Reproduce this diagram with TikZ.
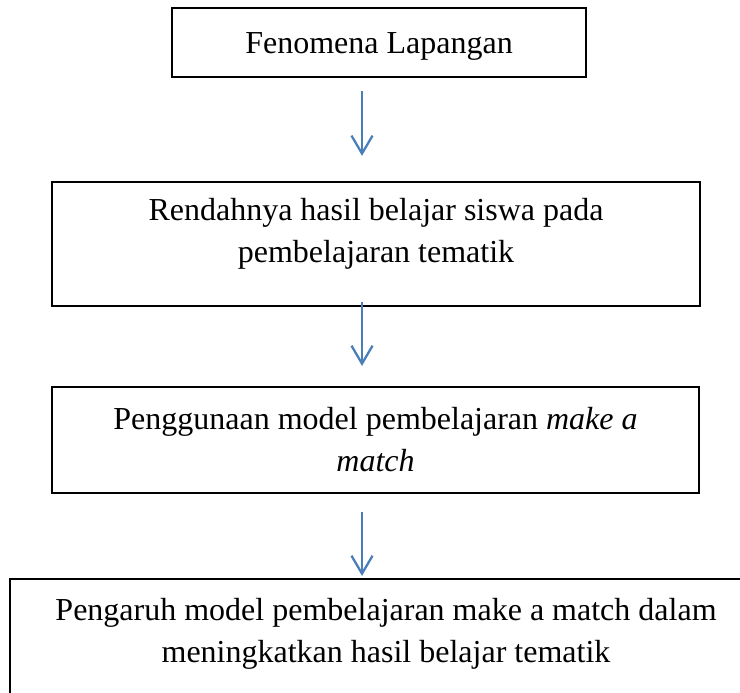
\documentclass[tikz,border=0pt]{standalone}
\usepackage{fontspec}
\setmainfont{Liberation Serif}
\usetikzlibrary{arrows.meta}
\definecolor{birupanah}{RGB}{74,126,187}

\begin{document}
\begin{tikzpicture}[x=0.375pt, y=-0.375pt,
    kotak/.style={draw, line width=0.8pt, inner sep=0pt, align=center,
      font=\fontsize{12}{15.75}\selectfont,
      execute at begin node={\rule{0pt}{10.5pt}}},
    panah/.style={draw=birupanah, line width=0.85pt,
      -{Straight Barb[length=6.75pt, width=7.9pt]}}]
        \clip (0,0) rectangle (740,693);

        % Kotak
        \node[kotak, minimum width=155.25pt, minimum height=25.875pt] (fenomena) at (379,42.5) {Fenomena Lapangan};
        \node[kotak, minimum width=243pt, minimum height=46.5pt] (rendah) at (376,244)
            {Rendahnya hasil belajar siswa pada\\pembelajaran tematik\rule[-10pt]{0pt}{0pt}};
        \node[kotak, minimum width=242.6pt, minimum height=39.75pt] (model) at (375.5,440)
            {Penggunaan model pembelajaran \textit{make a}\\\textit{match}};
        \node[kotak, minimum width=282pt, minimum height=46.5pt] (pengaruh) at (386,641)
            {Pengaruh model pembelajaran make a match dalam\\meningkatkan hasil belajar tematik\rule[-7.9pt]{0pt}{0pt}};

        % Panah
        \coordinate (sumbu) at (362,0);
        \draw[panah, shorten <=4.9pt, shorten >=9.4pt] (sumbu |- fenomena.south) -- (sumbu |- rendah.north);
        \draw[panah, shorten <=-1.9pt, shorten >=7.5pt] (sumbu |- rendah.south) -- (sumbu |- model.north);
        \draw[panah, shorten <=6.75pt, shorten >=0.75pt] (sumbu |- model.south) -- (sumbu |- pengaruh.north);
    \end{tikzpicture}
\end{document}
